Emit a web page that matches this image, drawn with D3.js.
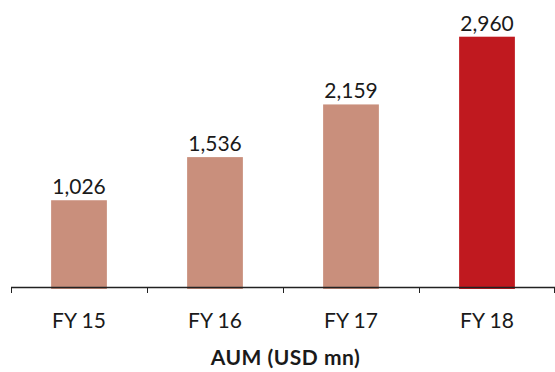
<!DOCTYPE html>
<html>
<head>
<meta charset="utf-8">
<script src="https://cdn.jsdelivr.net/npm/d3@7/dist/d3.min.js"></script>
<style>
  html, body { margin: 0; padding: 0; background: #fff; }
  svg { display: block; }
  text { font-family: Lato, "Open Sans", sans-serif; fill: #1a1a1a; }
</style>
</head>
<body>
<svg id="chart" width="555" height="372"></svg>
<script>
// Assets under management by fiscal year
const categories = ["FY 15", "FY 16", "FY 17", "FY 18"];
const values = [1026, 1536, 2159, 2960];
const barColors = ["#C98F7C", "#C98F7C", "#C98F7C", "#C0191F"];
const title = "AUM (USD mn)";

const svg = d3.select("#chart");
const baseY = 287;

const x = d3.scaleBand()
  .domain(categories)
  .range([11, 555])
  .paddingInner(0.59)
  .paddingOuter(0.295);

const y = d3.scaleLinear()
  .domain([0, 2960])
  .range([baseY, 36.7]);

// Bars
svg.append("g")
  .selectAll("rect")
  .data(values)
  .join("rect")
  .attr("x", (d, i) => x(categories[i]))
  .attr("width", x.bandwidth())
  .attr("y", d => y(d))
  .attr("height", d => baseY + 2 - y(d))
  .attr("fill", (d, i) => barColors[i]);

// Category axis with ticks between bands
const step = x.step();
const boundaries = d3.range(categories.length + 1).map(i => 11 + i * step);
const axis = svg.append("g");
axis.append("line")
  .attr("x1", 11).attr("x2", 555)
  .attr("y1", baseY + 0.5).attr("y2", baseY + 0.5)
  .attr("stroke", "#222").attr("stroke-width", 1.3);
axis.selectAll("line.tick")
  .data(boundaries)
  .join("line")
  .attr("class", "tick")
  .attr("x1", d => Math.min(d, 554) + 0.5).attr("x2", d => Math.min(d, 554) + 0.5)
  .attr("y1", baseY).attr("y2", baseY + 6)
  .attr("stroke", "#222").attr("stroke-width", 1);

axis.selectAll("text")
  .data(categories)
  .join("text")
  .attr("x", d => x(d) + x.bandwidth() / 2)
  .attr("y", 328)
  .attr("text-anchor", "middle")
  .attr("font-size", 21)
  .text(d => d);

// Value labels
const fmt = d3.format(",");
svg.append("g")
  .selectAll("text")
  .data(values)
  .join("text")
  .attr("x", (d, i) => x(categories[i]) + x.bandwidth() / 2)
  .attr("y", d => y(d) - 6)
  .attr("text-anchor", "middle")
  .attr("font-size", 21)
  .text(d => fmt(d));

// Title
svg.append("text")
  .attr("x", 285.5)
  .attr("y", 365)
  .attr("text-anchor", "middle")
  .attr("font-size", 21)
  .attr("font-weight", "bold")
  .attr("letter-spacing", 0.5)
  .text(title);
</script>
</body>
</html>
